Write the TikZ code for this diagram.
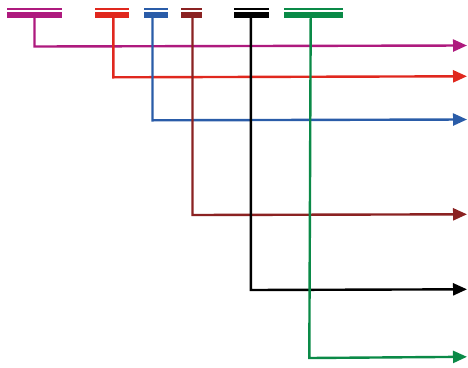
\documentclass[tikz,border=0pt]{standalone}
\usetikzlibrary{arrows.meta}
\definecolor{cmag}{HTML}{AE1A7E}
\definecolor{cred}{HTML}{E0281E}
\definecolor{cblue}{HTML}{2A5CA8}
\definecolor{cdred}{HTML}{8B2222}
\definecolor{cblk}{HTML}{000000}
\definecolor{cgrn}{HTML}{0A8A47}
\begin{document}
\begin{tikzpicture}[x=1pt,y=-1pt,
  barbox/.style={draw=none,fill=#1,minimum height=6pt,inner sep=0pt,outer sep=0pt,anchor=north west,
    append after command={\pgfextra{\let\bn\tikzlastnode}
      ([yshift=3pt]\bn.north west) edge[draw=#1,line width=1.8pt,-] ([yshift=3pt]\bn.north east)}},
  route/.style={draw=#1,line width=2.4pt,-{Triangle[length=14pt,width=12pt]},line join=miter},
]
\useasboundingbox (0,0) rectangle (468,367);
\node[barbox=cmag,minimum width=55pt] (bm) at (7,12) {};
\node[barbox=cred,minimum width=34pt] (br) at (95,12) {};
\node[barbox=cblue,minimum width=24pt] (bb) at (144,12) {};
\node[barbox=cdred,minimum width=21pt] (bd) at (181,12) {};
\node[barbox=cblk,minimum width=35pt] (bk) at (234,12) {};
\node[barbox=cgrn,minimum width=59pt] (bg) at (284,12) {};
% bends and ends
\coordinate (tm) at (34.5,18);  \coordinate (km) at (34.5,46.5); \coordinate (em) at (467,45.5);
\coordinate (tr) at (113.3,18); \coordinate (kr) at (113.3,77.3); \coordinate (er) at (467,76.3);
\coordinate (tb) at (152.5,18); \coordinate (kb) at (152.5,120.3); \coordinate (eb) at (467,119.5);
\coordinate (td) at (192.5,18); \coordinate (kd) at (192.5,215); \coordinate (ed) at (467,214.3);
\coordinate (tk) at (250.8,18); \coordinate (kk) at (250.8,290); \coordinate (ek) at (467,289.3);
\coordinate (tg) at (310.7,18); \coordinate (kg) at (309.3,358); \coordinate (eg) at (467,356.8);
\draw[route=cmag] (tm) -- (km) -- (em);
\draw[route=cred] (tr) -- (kr) -- (er);
\draw[route=cblue] (tb) -- (kb) -- (eb);
\draw[route=cdred] (td) -- (kd) -- (ed);
\draw[route=cblk] (tk) -- (kk) -- (ek);
\draw[route=cgrn] (tg) -- (kg) -- (eg);
\end{tikzpicture}
\end{document}
